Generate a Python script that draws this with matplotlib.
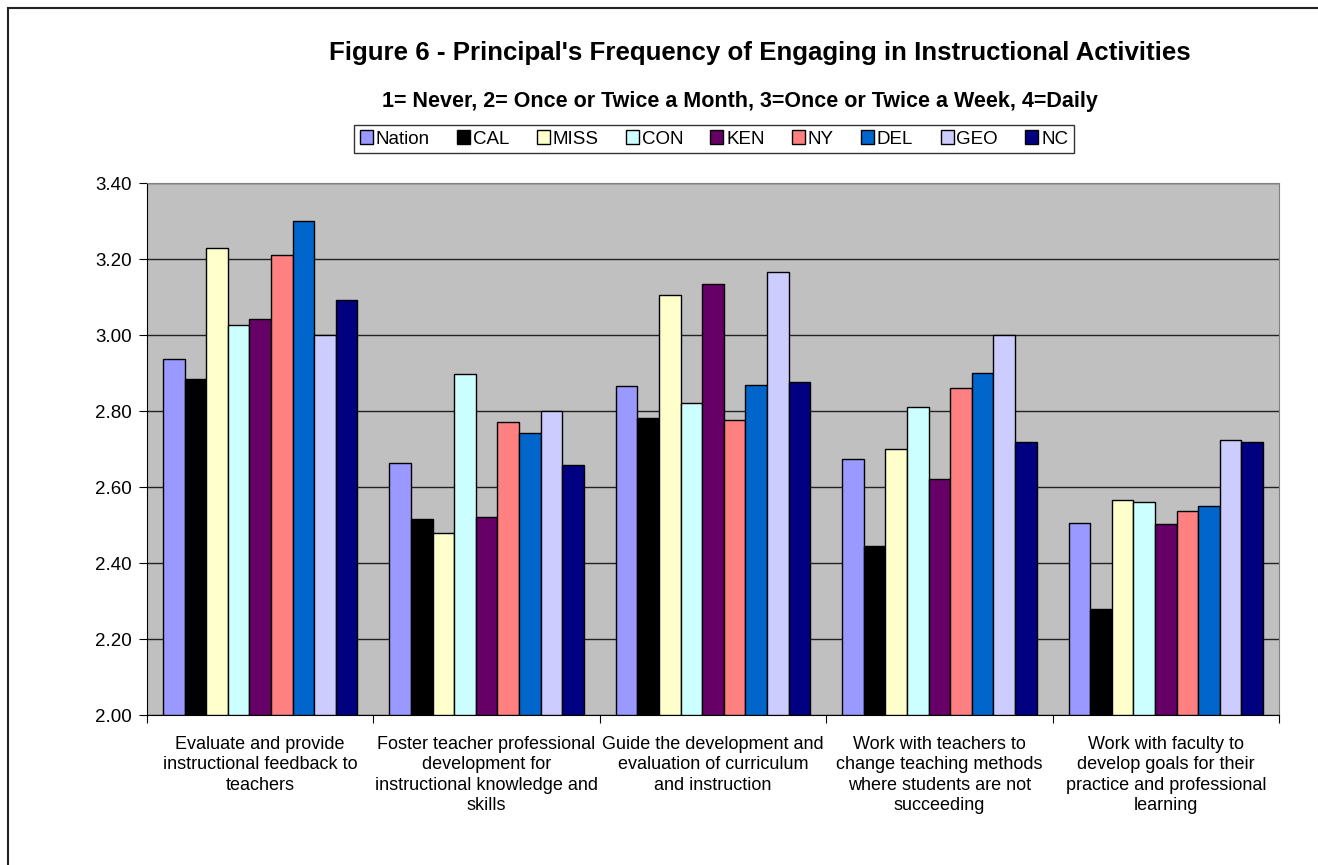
import matplotlib.pyplot as plt
import numpy as np
from matplotlib.patches import Rectangle

plt.rcParams['font.family'] = ['Liberation Sans', 'DejaVu Sans']

categories = ["Evaluate and provide\ninstructional feedback to\nteachers",
              "Foster teacher professional\ndevelopment for\ninstructional knowledge and\nskills",
              "Guide the development and\nevaluation of curriculum\nand instruction",
              "Work with teachers to\nchange teaching methods\nwhere students are not\nsucceeding",
              "Work with faculty to\ndevelop goals for their\npractice and professional\nlearning"]

states = ["Nation", "CAL", "MISS", "CON", "KEN", "NY", "DEL", "GEO", "NC"]
colors = ["#9999FF", "#000000", "#FFFFCC", "#CCFFFF", "#660066",
          "#FF8080", "#0066CC", "#CCCCFF", "#000080"]

nation = [2.937, 2.663, 2.866, 2.673, 2.506]
cal    = [2.885, 2.516, 2.782, 2.445, 2.280]
miss   = [3.230, 2.478, 3.105, 2.700, 2.567]
con    = [3.026, 2.898, 2.821, 2.810, 2.561]
ken    = [3.042, 2.520, 3.134, 2.620, 2.502]
ny     = [3.210, 2.772, 2.776, 2.860, 2.536]
dele   = [3.300, 2.741, 2.869, 2.900, 2.549]
geo    = [3.000, 2.800, 3.166, 3.000, 2.724]
nc     = [3.093, 2.657, 2.876, 2.718, 2.718]
values = [nation, cal, miss, con, ken, ny, dele, geo, nc]

fig = plt.figure(figsize=(13.18, 8.65), dpi=100)
# outer frame
fig.patches.append(Rectangle((8/1318, -0.01), 1.1, 1 - 8/865 + 0.01, transform=fig.transFigure,
                             fill=False, edgecolor='#222222', linewidth=1.5))

ax = fig.add_axes([147/1318, 1 - 715/865, 1132/1318, 532/865])
ax.set_facecolor('#C0C0C0')

n = len(states)
bw = 0.0955
x = np.arange(len(categories))
for i in range(n):
    ax.bar(x - (n - 1) / 2 * bw + i * bw, np.array(values[i]) - 2.0, bw, bottom=2.0,
           color=colors[i], edgecolor='black', linewidth=1.0, label=states[i], zorder=3)

ax.set_ylim(2.0, 3.4)
ax.set_xlim(-0.5, len(categories) - 0.5)
yt = np.arange(2.0, 3.41, 0.2)
ax.set_yticks(yt)
ax.set_yticklabels(["%.2f" % v for v in yt], fontsize=13.5)
ax.yaxis.grid(True, color='#222222', linewidth=1.0, zorder=1)
ax.set_axisbelow(True)
ax.set_xticks(np.arange(len(categories) + 1) - 0.5)
ax.set_xticklabels([])
ax.set_xticks(x, minor=True)
ax.set_xticklabels(categories, minor=True, fontsize=13, linespacing=1.26)
ax.tick_params(axis='x', which='minor', length=0, pad=15)
ax.tick_params(axis='x', which='major', length=6, direction='out')
ax.tick_params(axis='y', length=6, direction='out', pad=5)
for s in ['top', 'right']:
    ax.spines[s].set_color('#808080')
for s in ['left', 'bottom']:
    ax.spines[s].set_color('black')

fig.text(760/1318, 1 - 53/865, "Figure 6 - Principal's Frequency of Engaging in Instructional Activities",
         ha='center', va='center', fontsize=18.6, fontweight='bold')
fig.text(740/1318, 1 - 102/865, "1= Never, 2= Once or Twice a Month, 3=Once or Twice a Week, 4=Daily",
         ha='center', va='center', fontsize=15.5, fontweight='bold')

leg = fig.legend(loc='center', bbox_to_anchor=(714/1318, 1 - 139/865), ncol=9, fontsize=13.5,
                 frameon=True, fancybox=False, edgecolor='black', handlelength=0.7,
                 handleheight=0.7, handletextpad=0.15, columnspacing=1.45, borderpad=0.3)
leg.get_frame().set_linewidth(1.0)

fig.savefig("out.png", dpi=100)
